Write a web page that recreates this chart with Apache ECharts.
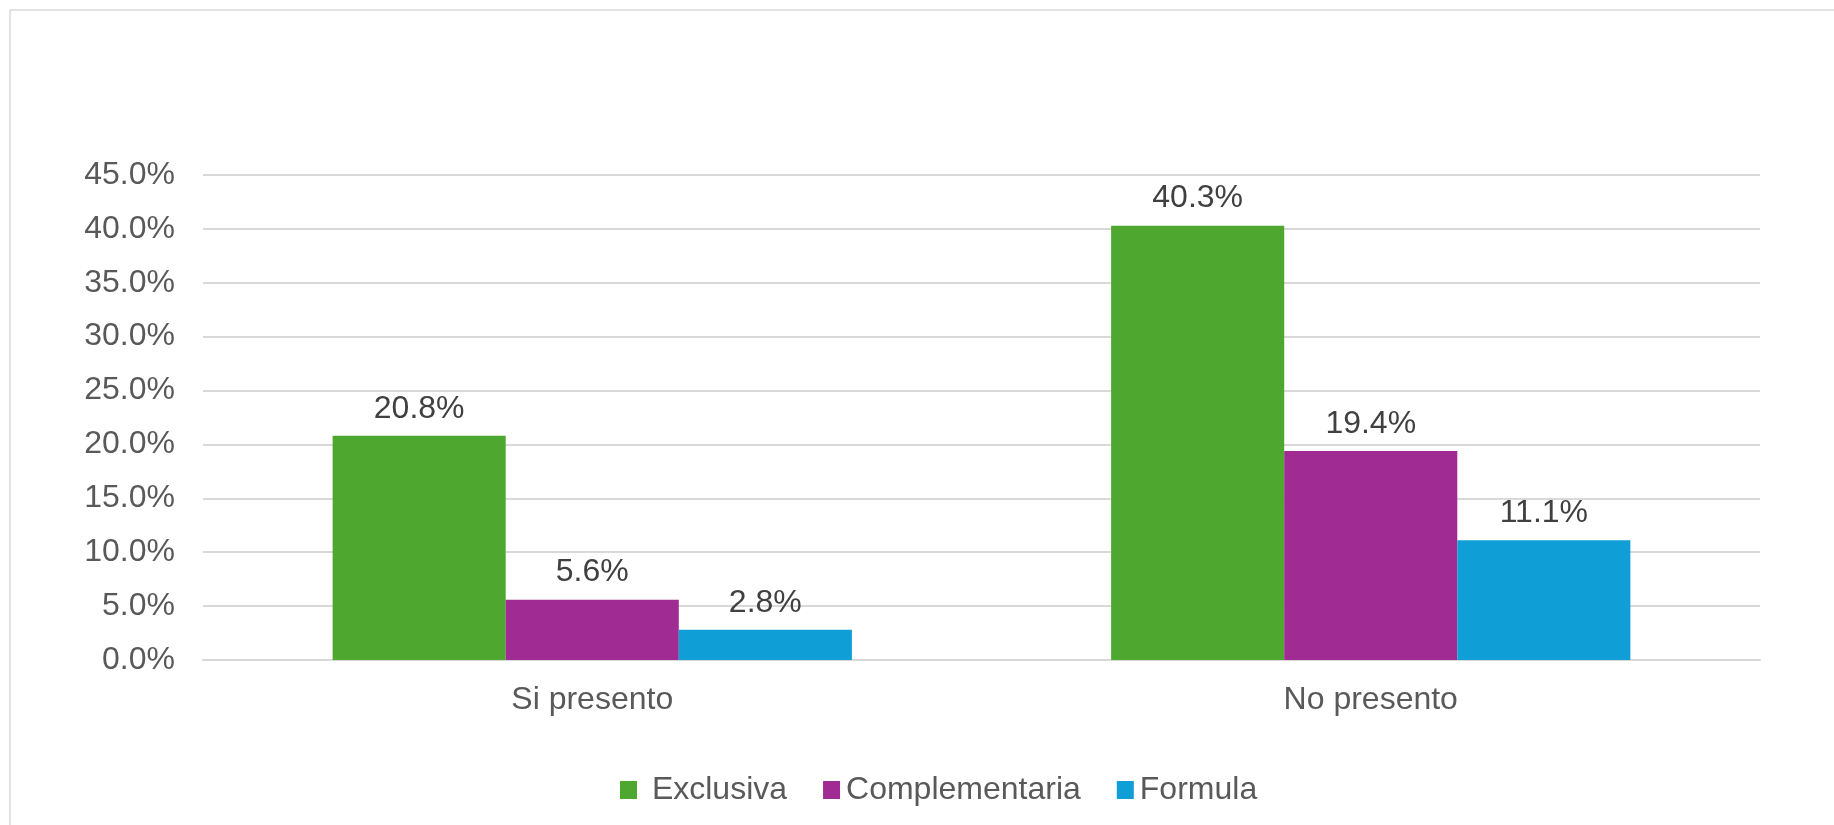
<!DOCTYPE html>
<html>
<head>
<meta charset="utf-8">
<script src="https://cdn.jsdelivr.net/npm/echarts@6/dist/echarts.min.js"></script>
<style>
html,body{margin:0;padding:0;background:#fff;}
#chart{width:1834px;height:825px;}
</style>
</head>
<body>
<div id="chart"></div>
<script>
var categories = ['Si presento', 'No presento'];
var seriesNames = [' Exclusiva', 'Complementaria', 'Formula'];
var exclusiva = [20.8, 40.3];
var complementaria = [5.6, 19.4];
var formula = [2.8, 11.1];
var yTicks = [0, 45, 5];

var colors = ['#4EA72E', '#A02B93', '#0F9ED5'];
var values = [exclusiva, complementaria, formula];
var FONT = '"Liberation Sans", Arial, sans-serif';
var FS = 32;

var chart = echarts.init(document.getElementById('chart'), null, {renderer: 'canvas'});

var series = seriesNames.map(function (name, i) {
  return {
    name: name,
    type: 'bar',
    data: values[i],
    barGap: '0%',
    barCategoryGap: '33.3%',
    itemStyle: {color: colors[i]},
    label: {
      show: true,
      position: 'top',
      distance: 11,
      color: '#404040',
      fontFamily: FONT,
      fontSize: FS,
      formatter: function (p) { return p.value.toFixed(1) + '%'; }
    }
  };
});

chart.setOption({
  animation: false,
  backgroundColor: '#ffffff',
  graphic: [{
    type: 'rect',
    shape: {x: 10, y: 10, width: 2000, height: 2000},
    style: {fill: 'none', stroke: '#d9d9d9', lineWidth: 1.5},
    silent: true
  }],
  grid: {left: 203, right: 74, top: 175, bottom: 165, containLabel: false},
  legend: {
    left: 615,
    top: 769,
    itemWidth: 17,
    itemHeight: 18,
    itemGap: 36,
    icon: 'rect',
    textStyle: {color: '#595959', fontFamily: FONT, fontSize: FS, padding: [0, 0, 0, 1]},
    data: seriesNames
  },
  xAxis: {
    type: 'category',
    data: categories,
    axisTick: {show: false},
    axisLine: {show: true, lineStyle: {color: '#d9d9d9', width: 2}},
    axisLabel: {color: '#595959', fontFamily: FONT, fontSize: FS, margin: 24}
  },
  yAxis: {
    type: 'value',
    min: yTicks[0],
    max: yTicks[1],
    interval: yTicks[2],
    axisLine: {show: false},
    axisTick: {show: false},
    splitLine: {lineStyle: {color: '#d9d9d9', width: 2}},
    axisLabel: {
      color: '#595959', fontFamily: FONT, fontSize: FS, margin: 28,
      formatter: function (v) { return v.toFixed(1) + '%'; }
    }
  },
  series: series
});
</script>
</body>
</html>
